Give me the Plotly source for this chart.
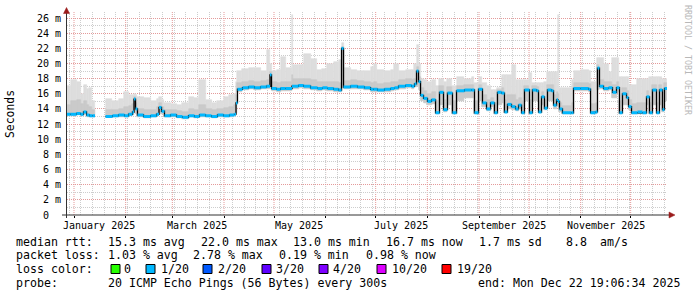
import plotly.graph_objects as go
import pandas as pd

# ---------------- data ----------------
dates = [
    "2024-12-27 19:06", "2024-12-29 22:00", "2025-01-02 12:00", "2025-01-04 22:00", "2025-01-06 17:00",
    "2025-01-08 12:00", "2025-01-10 07:00", "2025-01-12 02:00", "2025-01-13 14:00",
    "2025-01-19 22:00", "2025-01-24 02:00", "2025-01-27 17:00", "2025-01-31 07:00", "2025-02-02 17:00",
    "2025-02-05 02:00", "2025-02-06 00:00", "2025-02-06 22:00", "2025-02-08 02:00", "2025-02-11 17:00",
    "2025-02-15 22:00", "2025-02-19 12:00", "2025-02-21 00:00", "2025-02-22 12:00", "2025-02-24 07:00",
    "2025-02-27 22:00", "2025-03-03 12:00", "2025-03-07 02:00", "2025-03-10 17:00", "2025-03-14 07:00",
    "2025-03-17 07:00", "2025-03-20 22:00", "2025-03-24 12:00", "2025-03-28 02:00", "2025-03-31 17:00",
    "2025-04-04 07:00", "2025-04-07 07:00", "2025-04-08 05:00",
    "2025-04-09 02:00", "2025-04-12 02:00", "2025-04-15 17:00", "2025-04-19 07:00", "2025-04-22 22:00",
    "2025-04-26 12:00", "2025-04-28 14:00", "2025-04-29 12:00", "2025-05-02 12:00", "2025-05-04 22:00",
    "2025-05-07 22:00", "2025-05-11 19:00", "2025-05-12 10:00", "2025-05-15 17:00", "2025-05-18 17:00",
    "2025-05-22 22:00", "2025-05-27 02:00", "2025-05-30 02:00", "2025-06-02 02:00", "2025-06-05 17:00",
    "2025-06-08 17:00", "2025-06-10 12:00", "2025-06-11 17:00", "2025-06-15 22:00", "2025-06-20 02:00",
    "2025-06-24 07:00", "2025-06-27 22:00", "2025-06-29 17:00", "2025-07-02 02:00", "2025-07-06 07:00",
    "2025-07-09 22:00", "2025-07-12 07:00", "2025-07-14 17:00", "2025-07-18 22:00", "2025-07-22 12:00",
    "2025-07-24 07:00", "2025-07-25 12:00", "2025-07-26 17:00",
    "2025-07-27 22:00", "2025-07-29 17:00", "2025-08-01 02:00", "2025-08-03 12:00", "2025-08-05 22:00",
    "2025-08-08 07:00", "2025-08-10 17:00", "2025-08-13 02:00", "2025-08-16 02:00", "2025-08-18 12:00",
    "2025-08-23 07:00", "2025-08-27 12:00", "2025-08-29 07:00", "2025-08-31 17:00", "2025-09-03 02:00",
    "2025-09-05 12:00", "2025-09-07 22:00", "2025-09-10 07:00", "2025-09-12 02:00", "2025-09-14 12:00",
    "2025-09-16 07:00", "2025-09-18 02:00", "2025-09-20 12:00", "2025-09-22 22:00", "2025-09-24 17:00",
    "2025-09-26 12:00", "2025-09-28 07:00", "2025-10-01 07:00", "2025-10-03 02:00", "2025-10-05 12:00",
    "2025-10-06 17:00", "2025-10-08 12:00", "2025-10-10 07:00", "2025-10-12 02:00", "2025-10-14 12:00",
    "2025-10-15 17:00", "2025-10-17 12:00", "2025-10-18 10:00", "2025-10-19 07:00", "2025-10-21 02:00",
    "2025-10-26 12:00", "2025-10-27 17:00", "2025-10-31 22:00", "2025-11-05 17:00", "2025-11-06 22:00",
    "2025-11-09 22:00", "2025-11-11 02:00", "2025-11-12 07:00", "2025-11-14 17:00", "2025-11-17 17:00",
    "2025-11-20 02:00", "2025-11-22 12:00", "2025-11-24 07:00", "2025-11-26 02:00", "2025-11-28 12:00",
    "2025-11-29 17:00", "2025-12-01 12:00", "2025-12-05 02:00", "2025-12-08 02:00", "2025-12-10 12:00",
    "2025-12-12 07:00", "2025-12-14 02:00", "2025-12-16 12:00", "2025-12-18 07:00", "2025-12-20 02:00",
    "2025-12-21 07:00", "2025-12-22 19:06",
]

median_ms = [
    13.3, 13.3, 13.4, 13.3, 13.6, 13.2, 13.1, 13.1, None,
    13.0, 13.1, 13.2, 13.1, 13.3, 13.6, 15.3, 14.0, 13.2, 13.0,
    13.1, 13.3, 14.2, 13.7, 13.1, 13.2, 13.0, 12.9, 13.1, 13.0,
    13.2, 13.1, 13.0, 13.2, 13.1, 13.2, 13.3, 14.8,
    16.6, 16.8, 16.9, 16.8, 16.9, 17.0, 18.5, 16.7, 16.6, 16.7,
    16.7, 17.0, 17.0, 17.1, 17.0, 16.8, 16.7, 16.8, 16.7, 16.6,
    16.5, 22.0, 16.9, 17.0, 16.9, 16.8, 16.6, 16.6, 16.5, 16.6,
    16.7, 16.8, 17.0, 17.1, 17.0, 17.3, 19.0, 17.6,
    15.8, 15.4, 15.0, 15.2, 13.5, 16.2, 13.9, 16.1, 13.5, 16.4,
    16.5, 16.5, 13.5, 16.6, 14.8, 14.0, 14.8, 13.5, 16.2, 16.1,
    13.6, 14.6, 14.3, 14.0, 14.5, 13.5, 16.5, 13.5, 16.5, 16.4,
    13.6, 15.6, 14.1, 16.5, 16.4, 14.5, 15.2, 15.0, 14.0, 13.5,
    13.5, 16.7, 16.7, 16.6, 13.5, 13.6, 19.4, 17.0, 16.7, 16.8,
    16.2, 16.8, 13.5, 16.0, 15.5, 14.3, 13.5, 13.6, 13.5, 15.6,
    13.5, 16.5, 13.5, 16.5, 13.9, 16.7, 16.7,
]

smoke_min_ms = [
    13.1, 13.1, 13.2, 13.1, 13.3, 13.0, 12.9, 12.9, None,
    12.9, 12.9, 13.0, 12.9, 13.1, 13.2, 13.5, 13.3, 13.0, 12.8,
    12.9, 13.1, 13.4, 13.3, 12.9, 13.0, 12.8, 12.7, 12.9, 12.8,
    13.0, 12.9, 12.8, 13.0, 12.9, 13.0, 13.1, 13.5,
    16.3, 16.5, 16.6, 16.5, 16.6, 16.7, 16.9, 16.4, 16.3, 16.4,
    16.4, 16.7, 16.7, 16.8, 16.7, 16.5, 16.4, 16.5, 16.4, 16.3,
    16.2, 16.8, 16.6, 16.7, 16.6, 16.5, 16.3, 16.3, 16.2, 16.3,
    16.4, 16.5, 16.7, 16.8, 16.7, 16.9, 17.0, 16.5,
    15.0, 14.8, 14.5, 14.6, 13.4, 14.5, 13.6, 14.5, 13.4, 15.0,
    15.5, 15.5, 13.4, 15.0, 14.2, 13.7, 14.2, 13.4, 14.5, 14.8,
    13.5, 14.0, 13.8, 13.7, 14.0, 13.4, 15.0, 13.4, 15.0, 15.0,
    13.5, 14.5, 13.8, 15.0, 15.0, 14.0, 14.5, 14.3, 13.6, 13.4,
    13.4, 16.4, 16.4, 16.3, 13.4, 13.4, 16.5, 16.6, 16.4, 16.5,
    15.5, 16.2, 13.4, 14.5, 14.5, 13.8, 13.4, 13.4, 13.4, 14.5,
    13.4, 14.5, 13.4, 14.5, 13.6, 15.0, 15.0,
]

smoke_mid_ms = [
    14.5, 15.0, 15.2, 14.6, 15.0, 14.5, 14.2, 13.8, None,
    13.8, 13.9, 14.0, 14.2, 14.4, 14.6, 15.6, 14.8, 14.0, 13.8,
    13.9, 14.2, 14.8, 14.3, 13.8, 13.8, 13.7, 13.6, 14.0, 13.8,
    14.5, 14.0, 13.8, 14.0, 14.1, 14.2, 14.5, 15.8,
    17.4, 17.6, 17.7, 17.6, 17.7, 17.8, 18.9, 17.5, 17.4, 17.6,
    17.5, 18.5, 17.9, 17.9, 18.0, 17.8, 17.5, 17.6, 17.6, 17.5,
    17.4, 22.2, 17.7, 17.8, 17.7, 17.6, 17.4, 17.5, 17.3, 17.4,
    17.5, 17.6, 17.8, 17.9, 17.8, 18.0, 19.5, 18.2,
    16.8, 16.4, 16.0, 16.2, 15.0, 17.0, 15.2, 16.9, 15.0, 17.0,
    17.1, 17.2, 15.0, 17.2, 15.8, 15.2, 15.5, 14.8, 16.5, 16.8,
    15.2, 15.8, 15.8, 15.2, 15.5, 15.0, 17.0, 15.2, 17.0, 16.9,
    15.0, 16.2, 15.2, 17.2, 17.1, 15.8, 16.2, 16.0, 14.8, 14.4,
    14.8, 17.4, 17.4, 17.3, 14.6, 14.8, 19.8, 17.8, 17.5, 17.5,
    17.2, 17.5, 15.0, 16.8, 16.4, 15.2, 14.6, 14.8, 14.8, 16.4,
    14.8, 17.2, 14.8, 17.2, 15.0, 17.4, 17.4,
]

smoke_max_ms = [
    17.0, 17.8, 17.5, 16.0, 17.2, 16.6, 16.8, 15.0, None,
    15.3, 15.0, 15.3, 16.3, 15.8, 15.8, 16.0, 15.8, 15.6, 15.4,
    15.0, 15.3, 15.6, 15.2, 14.8, 14.6, 14.5, 14.8, 15.6, 15.5,
    17.8, 15.2, 14.8, 15.0, 15.6, 15.8, 16.0, 17.5,
    19.0, 19.3, 19.4, 19.4, 19.0, 21.8, 20.0, 19.0, 19.2, 20.8,
    19.4, 26.4, 19.8, 19.8, 21.2, 20.6, 19.1, 19.3, 20.0, 20.2,
    20.4, 22.7, 19.4, 19.2, 19.0, 19.0, 19.5, 20.0, 19.1, 19.0,
    19.2, 20.0, 19.0, 19.1, 19.2, 20.0, 22.5, 20.0,
    18.0, 17.8, 17.6, 17.8, 17.0, 18.0, 17.5, 18.0, 17.0, 18.2,
    18.0, 18.2, 17.4, 18.2, 17.4, 17.0, 16.5, 16.5, 16.8, 18.5,
    18.5, 18.5, 19.8, 17.8, 17.8, 17.8, 17.8, 18.7, 17.4, 17.4,
    17.4, 17.4, 17.6, 18.9, 18.9, 18.9, 18.9, 26.4, 16.8, 16.8,
    17.8, 19.0, 19.2, 19.0, 17.6, 17.6, 20.7, 20.7, 20.0, 18.9,
    20.7, 20.7, 18.2, 18.2, 18.2, 17.2, 17.2, 18.0, 18.0, 18.0,
    18.2, 18.2, 18.2, 18.2, 18.0, 18.0, 18.0,
]

y_tick_values = [0, 2, 4, 6, 8, 10, 12, 14, 16, 18, 20, 22, 24, 26]
y_tick_text = ["0\u00a0\u00a0"] + [f"{v} m" for v in y_tick_values[1:]]
month_label_dates = ["2025-01-16", "2025-03-16", "2025-05-16", "2025-07-16", "2025-09-16", "2025-11-16"]
month_labels = ["January 2025", "March 2025", "May 2025", "July 2025", "September 2025", "November 2025"]

loss_labels = ["0", "1/20", "2/20", "3/20", "4/20", "10/20", "19/20"]
loss_colors = ["#26ff00", "#00b8ff", "#0059ff", "#5e00ff", "#7e00ff", "#dd00ff", "#ff0000"]

# ---------------- build figure ----------------
FONT = "DejaVu Sans Mono"
t = pd.to_datetime(dates)
n = len(dates)

bx, bw, b_lo, b_hi, b_mid = [], [], [], [], []
for i in range(n - 1):
    if median_ms[i] is None:
        continue
    bx.append(t[i])
    bw.append((t[i + 1] - t[i]).total_seconds() * 1000.0)
    b_lo.append(smoke_min_ms[i])
    b_hi.append(smoke_max_ms[i] - smoke_min_ms[i])
    b_mid.append(smoke_mid_ms[i] - smoke_min_ms[i])

fig = go.Figure()
fig.add_trace(go.Bar(x=bx, y=b_hi, base=b_lo, width=bw, offset=0,
                     marker=dict(color="#dddddd", line=dict(width=0.6, color="#dddddd")),
                     hoverinfo="skip", showlegend=False))
fig.add_trace(go.Bar(x=bx, y=b_mid, base=b_lo, width=bw, offset=0,
                     marker=dict(color="#cacaca", line=dict(width=0.6, color="#cacaca")),
                     hoverinfo="skip", showlegend=False))

# median: black step line + loss-coloured horizontal segments
lx, ly, sx, sy = [], [], [], []
for i in range(n - 1):
    if median_ms[i] is None:
        lx.append(None); ly.append(None)
        continue
    lx += [t[i], t[i + 1]]
    ly += [median_ms[i], median_ms[i]]
    sx += [t[i], t[i + 1], None]
    sy += [median_ms[i], median_ms[i], None]

fig.add_trace(go.Scatter(x=lx, y=ly, mode="lines", line=dict(color="#000000", width=1.3),
                         connectgaps=False, hoverinfo="skip", showlegend=False))
fig.add_trace(go.Scatter(x=sx, y=sy, mode="lines", line=dict(color=loss_colors[1], width=3),
                         connectgaps=False, hoverinfo="skip", showlegend=False))

L, R, T, B = 67, 667, 12, 215
W, H = 697, 297


def px(x):
    return (x - L) / (R - L)


def py(y):
    return (B - y) / (B - T)


month_starts = pd.date_range("2025-01-01", "2025-12-01", freq="MS")
sundays = pd.date_range("2024-12-29", "2025-12-21", freq="7D")
MAJOR = "#e49a9a"
MINOR = "#cdcdcd"

fig.update_layout(
    width=W, height=H,
    margin=dict(l=L, r=W - R, t=T, b=H - B, pad=0),
    paper_bgcolor="#ffffff", plot_bgcolor="#ffffff",
    barmode="overlay", bargap=0,
    font=dict(family=FONT, size=10, color="#000000"),
    showlegend=False,
    xaxis=dict(
        type="date", range=[t[0], t[-1]],
        tickmode="array", tickvals=list(month_starts), showticklabels=False,
        ticks="outside", ticklen=2, tickcolor="#000000",
        showgrid=False,
        minor=dict(tickmode="array", tickvals=list(sundays), showgrid=True,
                   gridcolor=MINOR, gridwidth=1, griddash="1px,1px", ticks=""),
        showline=False, zeroline=False, fixedrange=True,
    ),
    yaxis=dict(
        range=[0, 26.8], tickmode="array", tickvals=y_tick_values, ticktext=y_tick_text,
        ticks="", ticklabelstandoff=5,
        tickfont=dict(family=FONT, size=10, color="#000000"),
        showgrid=True, gridcolor=MAJOR, gridwidth=1, griddash="1px,1px",
        minor=dict(tickmode="array", tickvals=[v + 1 for v in y_tick_values], showgrid=True,
                   gridcolor=MINOR, gridwidth=1, griddash="1px,1px", ticks=""),
        showline=False, zeroline=False, fixedrange=True,
    ),
)

shapes = []
# major (monthly) vertical grid lines
for ms in month_starts:
    shapes.append(dict(type="line", xref="x", yref="paper", x0=ms, x1=ms, y0=0, y1=1,
                       layer="between", line=dict(color=MAJOR, width=1, dash="1px,1px")))

AX = "#333333"
ARROW = "#9b1c1c"
# axis lines
shapes.append(dict(type="line", xref="paper", yref="paper", x0=px(62), x1=px(670), y0=py(215), y1=py(215),
                   line=dict(color=AX, width=1)))
shapes.append(dict(type="line", xref="paper", yref="paper", x0=px(66.5), x1=px(66.5), y0=py(218), y1=py(11),
                   line=dict(color=AX, width=1)))
# arrows
shapes.append(dict(type="path", xref="paper", yref="paper",
                   path=f"M {px(669)} {py(212)} L {px(675)} {py(215)} L {px(669)} {py(218)} Z",
                   fillcolor=ARROW, line=dict(color=ARROW, width=0.5)))
shapes.append(dict(type="path", xref="paper", yref="paper",
                   path=f"M {px(63.5)} {py(13.5)} L {px(66.5)} {py(7.5)} L {px(69.5)} {py(13.5)} Z",
                   fillcolor=ARROW, line=dict(color=ARROW, width=0.5)))

# loss colour boxes
box_left = [111, 146, 203, 262, 319, 377, 442]
for bxl, c in zip(box_left, loss_colors):
    shapes.append(dict(type="rect", xref="paper", yref="paper",
                       x0=px(bxl), x1=px(bxl + 9), y0=py(273.5), y1=py(264.5),
                       fillcolor=c, line=dict(color="#000000", width=1)))
fig.update_layout(shapes=shapes)

ann = []


def text(x, y, s, size=11.6, color="#000000", anchor="left", angle=0):
    ann.append(dict(xref="paper", yref="paper", x=px(x), y=py(y), text=s, showarrow=False,
                    xanchor=anchor, yanchor="middle", textangle=angle,
                    borderpad=0, borderwidth=0,
                    font=dict(family=FONT, size=size, color=color)))


# x axis month labels
for d, s in zip(month_label_dates, month_labels):
    ann.append(dict(xref="x", yref="paper", x=d, y=py(225), text=s, showarrow=False,
                    xanchor="center", yanchor="middle", borderpad=0, borderwidth=0,
                    font=dict(family=FONT, size=10, color="#000000")))

text(10, 114, "Seconds", size=11.4, anchor="center", angle=-90)
text(688, 60, "RRDTOOL / TOBI OETIKER", size=8.3, color="#b8b8b8", anchor="center", angle=90)

# legend lines
Y1, Y2, Y3, Y4 = 241.5, 255, 269, 283
text(16, Y1, "median rtt:")
for xpos, s in [(107.7, "15.3 ms avg"), (200.7, "22.0 ms max"), (293.3, "13.0 ms min"),
                (386, "16.7 ms now"), (479.3, "1.7 ms sd"), (565.7, "8.8"), (600, "am/s")]:
    text(xpos, Y1, s)
text(16, Y2, "packet loss:")
for xpos, s in [(107.7, "1.03 % avg"), (193.3, "2.78 % max"), (279.3, "0.19 % min"), (366, "0.98 % now")]:
    text(xpos, Y2, s)
text(16, Y3, "loss color:")
for xpos, s in zip([124, 161, 218, 276, 333, 392, 457], loss_labels):
    text(xpos, Y3, s)
text(16, Y4, "probe:")
text(107.7, Y4, "20 ICMP Echo Pings (56 Bytes) every 300s")
text(478.3, Y4, "end: Mon Dec 22 19:06:34 2025")

fig.update_layout(annotations=ann)

crisp_js = """
var st = document.createElement('style');
st.textContent = '.gridlayer path, .minor-gridlayer path, .layer-between path {shape-rendering: crispEdges;}';
document.head.appendChild(st);
"""
fig.write_html("out.html", post_script=crisp_js)
